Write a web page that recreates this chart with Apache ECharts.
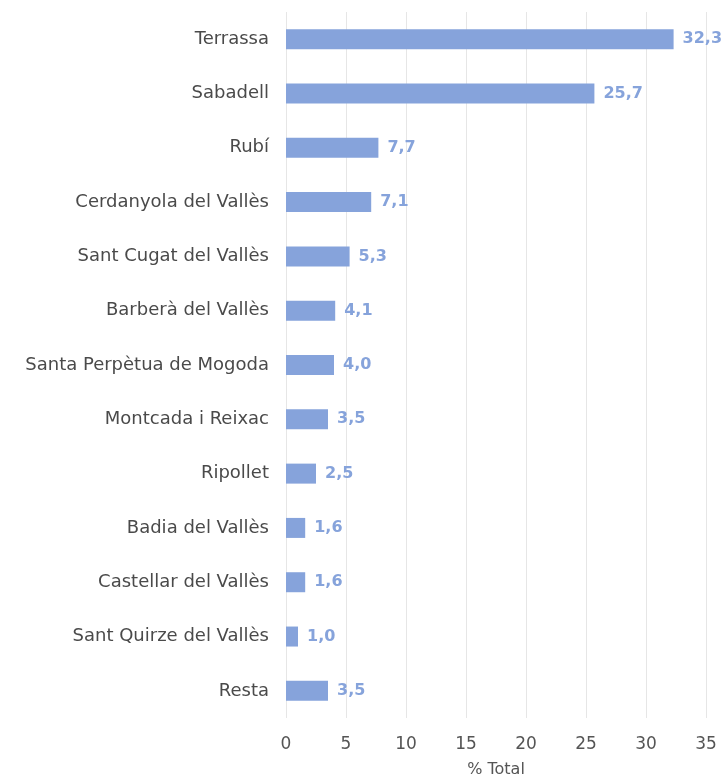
<!DOCTYPE html>
<html><head><meta charset="utf-8">
<script src="https://cdn.jsdelivr.net/npm/echarts@6/dist/echarts.min.js"></script>
<style>html,body{margin:0;padding:0;background:#fff}#c{width:725px;height:778px}</style>
</head><body><div id="c"></div>
<script>
var categories = ["Terrassa","Sabadell","Rubí","Cerdanyola del Vallès","Sant Cugat del Vallès","Barberà del Vallès","Santa Perpètua de Mogoda","Montcada i Reixac","Ripollet","Badia del Vallès","Castellar del Vallès","Sant Quirze del Vallès","Resta"];
var values = [32.3,25.7,7.7,7.1,5.3,4.1,4.0,3.5,2.5,1.6,1.6,1.0,3.5];
var xTicks = [0,5,10,15,20,25,30,35];
var font = "'DejaVu Sans', sans-serif";
var chart = echarts.init(document.getElementById('c'));
chart.setOption({
  animation:false,
  grid:{left:286,right:19,top:12,bottom:60,containLabel:false,outerBoundsMode:'none'},
  xAxis:{type:'value',min:0,max:35,interval:5,
    name:'% Total',nameLocation:'middle',nameGap:44,
    nameTextStyle:{color:'#555',fontSize:16,fontFamily:font},
    axisLine:{show:false},axisTick:{show:false},
    axisLabel:{color:'#555',fontSize:17,fontFamily:font,margin:18,
      formatter:function(v){return xTicks.indexOf(v)>=0?String(v):'';}},
    splitLine:{show:true,lineStyle:{color:'#e6e6e6',width:1}}},
  yAxis:{type:'category',data:categories,inverse:true,
    axisLine:{show:false},axisTick:{show:false},
    axisLabel:{color:'#4a4a4a',fontSize:18,fontFamily:font,margin:17}},
  series:[{type:'bar',data:values,barWidth:20,
    itemStyle:{color:'#86a3db'},
    label:{show:true,position:'right',distance:9,color:'#86a3db',fontSize:16,fontWeight:'bold',fontFamily:font,
      formatter:function(p){return p.value.toFixed(1).replace('.',',');}}}]
});
</script></body></html>
